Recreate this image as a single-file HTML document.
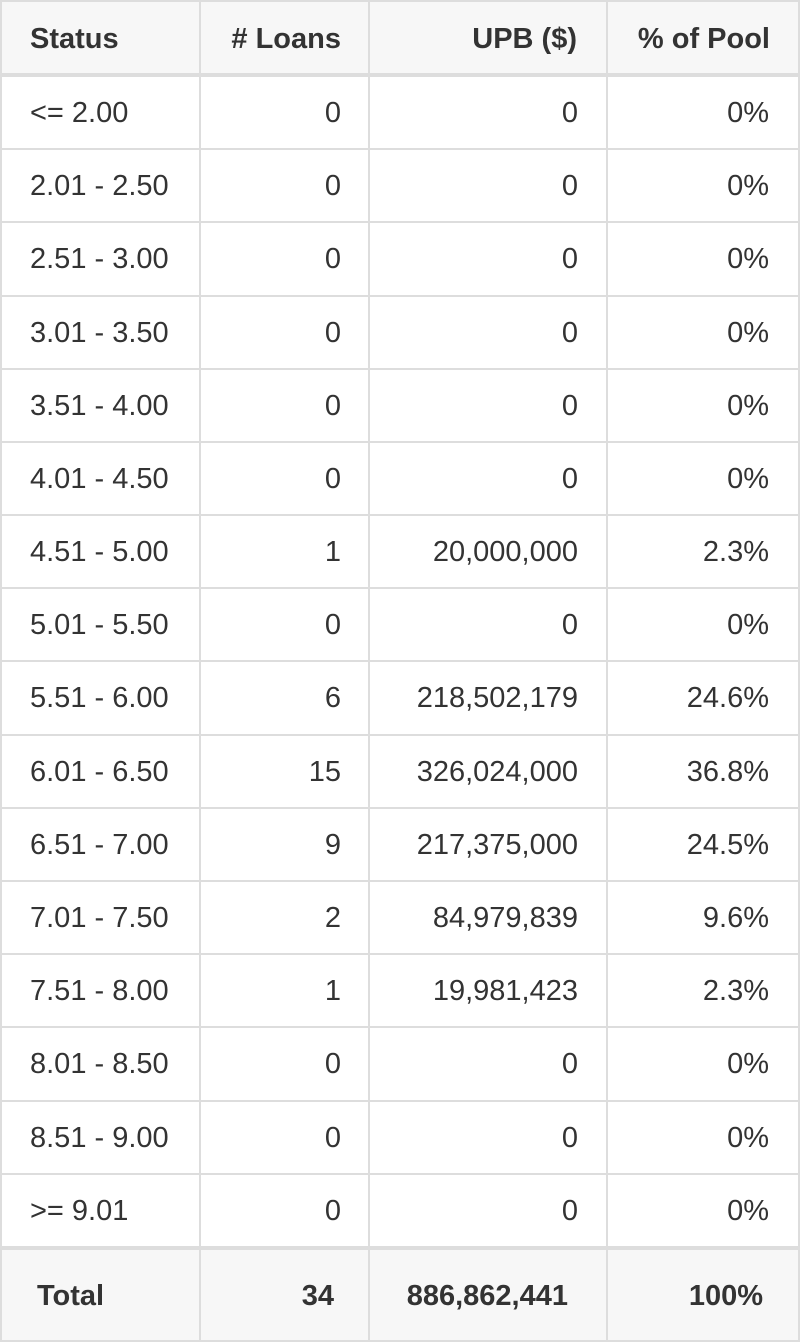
<!DOCTYPE html>
<html>
<head>
<meta charset="utf-8">
<style>
html,body{margin:0;padding:0;background:#fff;}
body{width:800px;height:1342px;position:relative;overflow:hidden;font-family:"Liberation Sans",Arial,Helvetica,sans-serif;font-size:29px;color:#333;}
.bg{position:absolute;left:0;width:800px;background:#f7f7f7;}
.v{position:absolute;top:0;width:2px;height:1342px;background:#ddd;}
.h{position:absolute;left:0;width:800px;height:2px;background:#ddd;}
.r{position:absolute;left:0;width:800px;height:71px;line-height:71px;}
.r div{position:absolute;top:1px;white-space:nowrap;}
.r.hd div{top:2px;}
.c1{left:30px;}
.c2{right:459px;}
.c3{right:222px;}
.c4{right:31px;}
.hd{font-weight:bold;}
</style>
</head>
<body>
<div class="bg" style="top:0;height:77px;"></div>
<div class="bg" style="top:1246px;height:96px;"></div>

<div class="h" style="top:0;"></div>
<div class="h" style="top:73px;height:4px;"></div>
<div class="h" style="top:148px;"></div>
<div class="h" style="top:221px;"></div>
<div class="h" style="top:295px;"></div>
<div class="h" style="top:368px;"></div>
<div class="h" style="top:441px;"></div>
<div class="h" style="top:514px;"></div>
<div class="h" style="top:587px;"></div>
<div class="h" style="top:660px;"></div>
<div class="h" style="top:734px;"></div>
<div class="h" style="top:807px;"></div>
<div class="h" style="top:880px;"></div>
<div class="h" style="top:953px;"></div>
<div class="h" style="top:1026px;"></div>
<div class="h" style="top:1100px;"></div>
<div class="h" style="top:1173px;"></div>
<div class="h" style="top:1246px;height:4px;"></div>
<div class="h" style="top:1340px;"></div>

<div class="v" style="left:0;"></div>
<div class="v" style="left:199px;"></div>
<div class="v" style="left:368px;"></div>
<div class="v" style="left:606px;"></div>
<div class="v" style="left:798px;"></div>

<div class="r hd" style="top:2px;"><div class="c1">Status</div><div class="c2">&#35; Loans</div><div class="c3" style="right:223px;">UPB ($)</div><div class="c4" style="right:30px;">% of Pool</div></div>

<div class="r" style="top:77px;"><div class="c1">&lt;= 2.00</div><div class="c2">0</div><div class="c3">0</div><div class="c4">0%</div></div>
<div class="r" style="top:150px;"><div class="c1">2.01 - 2.50</div><div class="c2">0</div><div class="c3">0</div><div class="c4">0%</div></div>
<div class="r" style="top:223px;"><div class="c1">2.51 - 3.00</div><div class="c2">0</div><div class="c3">0</div><div class="c4">0%</div></div>
<div class="r" style="top:297px;"><div class="c1">3.01 - 3.50</div><div class="c2">0</div><div class="c3">0</div><div class="c4">0%</div></div>
<div class="r" style="top:370px;"><div class="c1">3.51 - 4.00</div><div class="c2">0</div><div class="c3">0</div><div class="c4">0%</div></div>
<div class="r" style="top:443px;"><div class="c1">4.01 - 4.50</div><div class="c2">0</div><div class="c3">0</div><div class="c4">0%</div></div>
<div class="r" style="top:516px;"><div class="c1">4.51 - 5.00</div><div class="c2">1</div><div class="c3">20,000,000</div><div class="c4">2.3%</div></div>
<div class="r" style="top:589px;"><div class="c1">5.01 - 5.50</div><div class="c2">0</div><div class="c3">0</div><div class="c4">0%</div></div>
<div class="r" style="top:662px;"><div class="c1">5.51 - 6.00</div><div class="c2">6</div><div class="c3">218,502,179</div><div class="c4">24.6%</div></div>
<div class="r" style="top:736px;"><div class="c1">6.01 - 6.50</div><div class="c2">15</div><div class="c3">326,024,000</div><div class="c4">36.8%</div></div>
<div class="r" style="top:809px;"><div class="c1">6.51 - 7.00</div><div class="c2">9</div><div class="c3">217,375,000</div><div class="c4">24.5%</div></div>
<div class="r" style="top:882px;"><div class="c1">7.01 - 7.50</div><div class="c2">2</div><div class="c3">84,979,839</div><div class="c4">9.6%</div></div>
<div class="r" style="top:955px;"><div class="c1">7.51 - 8.00</div><div class="c2">1</div><div class="c3">19,981,423</div><div class="c4">2.3%</div></div>
<div class="r" style="top:1028px;"><div class="c1">8.01 - 8.50</div><div class="c2">0</div><div class="c3">0</div><div class="c4">0%</div></div>
<div class="r" style="top:1102px;"><div class="c1">8.51 - 9.00</div><div class="c2">0</div><div class="c3">0</div><div class="c4">0%</div></div>
<div class="r" style="top:1175px;"><div class="c1">&gt;= 9.01</div><div class="c2">0</div><div class="c3">0</div><div class="c4">0%</div></div>

<div class="r" style="top:1250px;height:90px;line-height:90px;font-weight:bold;"><div style="left:37px;">Total</div><div style="right:466px;">34</div><div style="right:232px;">886,862,441</div><div style="right:37px;">100%</div></div>
</body>
</html>
